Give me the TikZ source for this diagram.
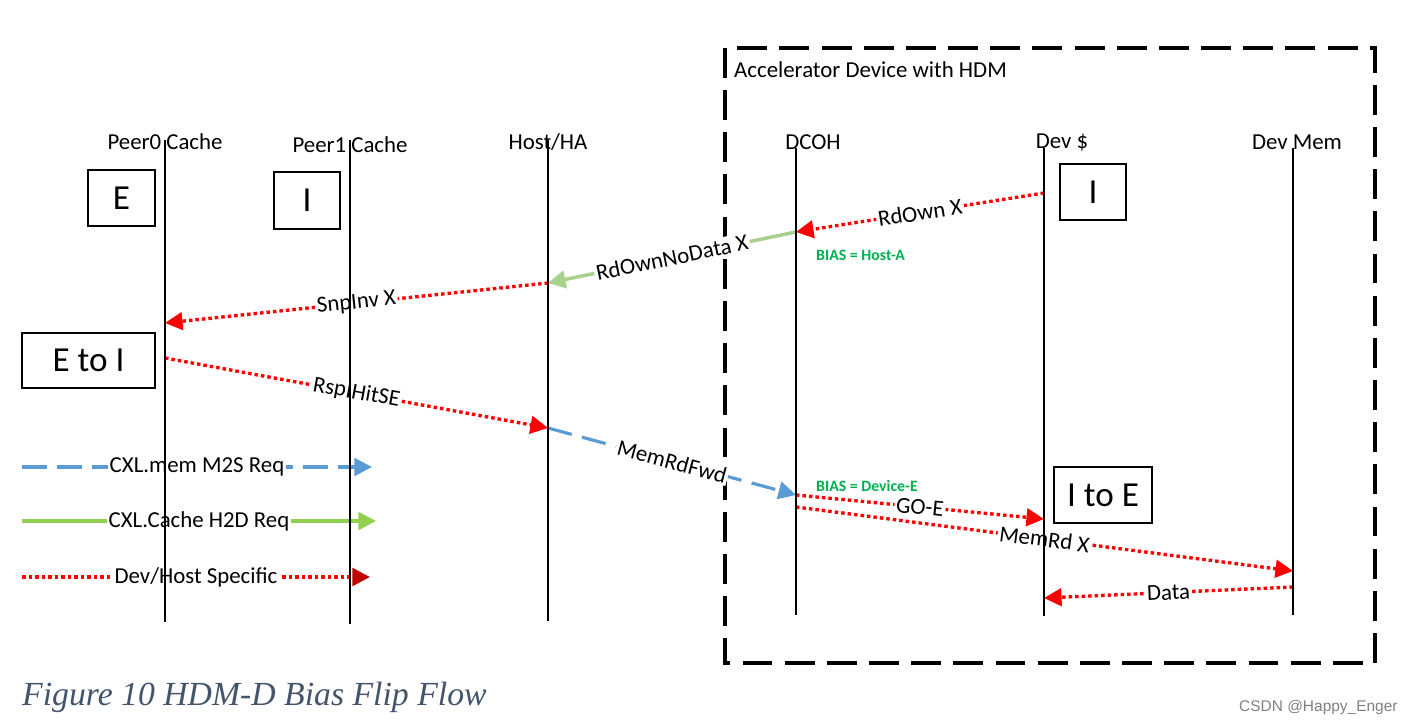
\documentclass[tikz,border=0pt]{standalone}
\usepackage{fontspec}
\setmainfont{Carlito}
\newfontfamily\capfont{Liberation Serif}
\newfontfamily\wmfont{Liberation Sans}
\usetikzlibrary{arrows.meta}

\definecolor{h2dgreen}{RGB}{169,209,142}
\definecolor{keygreen}{RGB}{146,208,80}
\definecolor{m2sblue}{RGB}{91,155,213}
\definecolor{biasgreen}{RGB}{0,176,80}
\definecolor{keyred}{RGB}{192,0,0}
\definecolor{capblue}{RGB}{68,84,106}

\begin{document}
\begin{tikzpicture}[x=0.02cm, y=-0.02cm,
	every node/.style={font=\fontsize{13}{15}\selectfont},
	life/.style={line width=1.6pt},
	state/.style={draw, line width=1.5pt, font=\fontsize{20}{24}\selectfont},
	tip/.style={-{Triangle[length=10pt,width=10pt]}},
	spec/.style={tip, red, line width=1.9pt, dash pattern=on 2pt off 1.7pt},
	m2s/.style={tip, m2sblue, line width=1.8pt, dash pattern=on 14pt off 6pt},
	h2d/.style={tip, line width=2pt},
	lbl/.style={sloped, fill=white, inner sep=1pt, text=black},
	bias/.style={biasgreen, anchor=west, font=\fontsize{9}{10}\selectfont\bfseries},
	accbox/.style={line width=2.3pt, dash pattern=on 17pt off 7pt}]
	\useasboundingbox (0,0) rectangle (1413,726);

	% accelerator device
	\draw[accbox] (725,48) rectangle (1375,663);
	\node[anchor=west] (acc) at (728,70) {Accelerator Device with HDM};

	% lifeline heads
	\node (peer0) at (165,142) {Peer0 Cache};
	\node (peer1) at (350,145) {Peer1 Cache};
	\node (host) at (548,142) {Host/HA};
	\node (dcoh) at (813,142) {DCOH};
	\node (devc) at (1062,142) {Dev \$};
	\node (devm) at (1297,142) {Dev Mem};

	% cache states
	\node[state, minimum width=1.34cm, minimum height=1.12cm] (sE) at (121.5,198) {E};
	\node[state, minimum width=1.32cm, minimum height=1.14cm] (sI) at (307,200.5) {I};
	\node[state, minimum width=2.66cm, minimum height=1.1cm] (sEI) at (88.5,360.5) {E to I};
	\node[state, minimum width=1.32cm, minimum height=1.12cm] (dI) at (1093,192) {I};
	\node[state, minimum width=1.96cm, minimum height=1.12cm] (dIE) at (1103,495) {I to E};

	% message ends
	\coordinate (d1) at (1044,193);
	\coordinate (c1) at (796,232);
	\coordinate (h1) at (548,283);
	\coordinate (p1) at (165,323);
	\coordinate (p2) at (165,358);
	\coordinate (h2) at (548,428);
	\coordinate (c2) at (796,495);
	\coordinate (d2) at (1044,519);
	\coordinate (c3) at (796,507);
	\coordinate (m1) at (1293,571);
	\coordinate (m2) at (1293,587);
	\coordinate (d3) at (1044,598);

	\draw[spec] (d1) to node[lbl] {RdOwn X} (c1);
	\draw[h2d, h2dgreen] (c1) to node[lbl] {RdOwnNoData X} (h1);
	\draw[spec] (h1) to node[lbl] {SnpInv X} (p1);
	\draw[spec] (p2) to node[lbl] {RspIHitSE} (h2);
	\draw[m2s] (h2) to node[lbl] {MemRdFwd} (c2);
	\draw[spec] (c2) to node[lbl] {GO-E} (d2);
	\draw[spec] (c3) to node[lbl] {MemRd X} (m1);
	\draw[spec] (m2) to node[lbl] {Data} (d3);

	\node[bias] (bias1) at (810,255) {BIAS = Host-A};
	\node[bias] (bias2) at (810,486) {BIAS = Device-E};

	% legend
	\coordinate (k1s) at (22,467);
	\coordinate (k1e) at (372,467);
	\coordinate (k2s) at (22,521);
	\coordinate (k2e) at (376,521);
	\coordinate (k3s) at (22,577);
	\coordinate (k3e) at (370,577);
	\draw[m2s] (k1s) to node[lbl] {CXL.mem M2S Req} (k1e);
	\draw[h2d, keygreen] (k2s) to node[lbl] {CXL.Cache H2D Req} (k2e);
	\draw[spec, -{Triangle[length=10pt,width=10pt,fill=keyred,color=keyred]}] (k3s) to node[lbl] {Dev/Host Specific} (k3e);

	% lifelines
	\coordinate (peer0t) at (165,140);
	\coordinate (peer0b) at (165,622);
	\coordinate (peer1t) at (350,140);
	\coordinate (peer1b) at (350,624);
	\coordinate (hostt) at (548,140);
	\coordinate (hostb) at (548,621);
	\coordinate (dcoht) at (796,148);
	\coordinate (dcohb) at (796,615);
	\coordinate (devct) at (1044,148);
	\coordinate (devcb) at (1044,616);
	\coordinate (devmt) at (1293,148);
	\coordinate (devmb) at (1293,615);
	\draw[life] (peer0t) -- (peer0b);
	\draw[life] (peer1t) -- (peer1b);
	\draw[life] (hostt) -- (hostb);
	\draw[life] (dcoht) -- (dcohb);
	\draw[life] (devct) -- (devcb);
	\draw[life] (devmt) -- (devmb);

	% caption
	\node[anchor=base west, text=capblue, font=\capfont\itshape\fontsize{19.2}{22}\selectfont] (cap) at (16,705) {Figure 10 HDM-D Bias Flip Flow};
	\node[anchor=west, text=black!50, font=\wmfont\fontsize{8.8}{10}\selectfont] (wm) at (1233,707) {CSDN @Happy\_Enger};
\end{tikzpicture}
\end{document}
